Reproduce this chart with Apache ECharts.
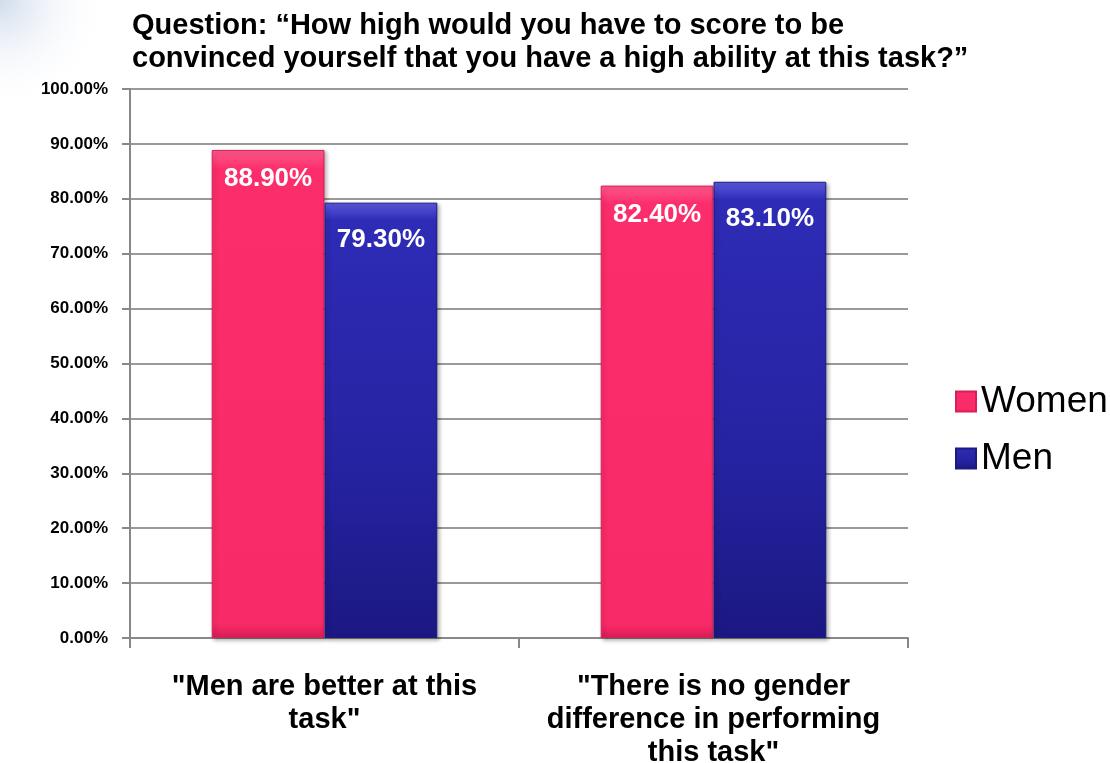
<!DOCTYPE html>
<html>
<head>
<meta charset="utf-8">
<script src="https://cdn.jsdelivr.net/npm/echarts@6/dist/echarts.min.js"></script>
<style>
  html, body { margin: 0; padding: 0; background: #fff; }
  #main { width: 1110px; height: 763px; }
</style>
</head>
<body>
<div id="main"></div>
<script>
// data
var categories = ['"Men are better at this\ntask"', '"There is no gender\ndifference in performing\nthis task"'];
var women = [88.9, 82.4];
var men = [79.3, 83.1];
var yTicks = [0, 10, 20, 30, 40, 50, 60, 70, 80, 90, 100];

var chart = echarts.init(document.getElementById('main'));

var FONT = 'Liberation Sans, Arial, sans-serif';
var labelFont = { color: '#fff', fontSize: 26, fontWeight: 'bold', fontFamily: FONT };

var option = {
  animation: false,
  graphic: [{
    // faint slide background in the top left corner
    type: 'ellipse',
    shape: { cx: 0, cy: 0, rx: 600, ry: 110 },
    style: {
      fill: new echarts.graphic.RadialGradient(0.5, 0.5, 0.5, [
        { offset: 0, color: 'rgba(205,218,235,0.95)' },
        { offset: 0.4, color: 'rgba(228,235,245,0.6)' },
        { offset: 1, color: 'rgba(255,255,255,0)' }
      ])
    },
    z: -10
  }],
  title: {
    text: 'Question: \u201cHow high would you have to score to be\nconvinced yourself that you have a high ability at this task?\u201d',
    left: 127,
    top: 4,
    textStyle: {
      fontSize: 29,
      fontWeight: 'bold',
      color: '#000',
      lineHeight: 33,
      fontFamily: FONT
    }
  },
  legend: {
    orient: 'vertical',
    left: 950,
    top: 378,
    itemGap: 20,
    itemWidth: 20,
    itemHeight: 20,
    icon: 'rect',
    textStyle: { fontSize: 37, color: '#000', fontFamily: FONT },
    data: ['Women', 'Men']
  },
  grid: { left: 130, right: 202, top: 89, bottom: 125, outerBoundsMode: 'none', containLabel: false },
  xAxis: {
    type: 'category',
    data: categories,
    axisLine: { lineStyle: { color: '#888', width: 2 } },
    axisTick: { show: true, length: 10, lineStyle: { color: '#888', width: 2 } },
    axisLabel: {
      interval: 0,
      margin: 32,
      fontSize: 29,
      fontWeight: 'bold',
      lineHeight: 33,
      color: '#000',
      fontFamily: FONT
    }
  },
  yAxis: {
    type: 'value',
    min: yTicks[0],
    max: yTicks[yTicks.length - 1],
    interval: 10,
    axisLine: { show: true, lineStyle: { color: '#888', width: 2 } },
    axisTick: { show: true, length: 8, lineStyle: { color: '#888', width: 2 } },
    splitLine: { lineStyle: { color: '#999', width: 2 } },
    axisLabel: {
      margin: 22,
      fontSize: 17,
      fontWeight: 'bold',
      color: '#000',
      fontFamily: FONT,
      formatter: function (v) { return v.toFixed(2) + '%'; }
    }
  },
  series: [
    {
      name: 'Women',
      type: 'bar',
      data: women,
      barGap: '0%',
      barCategoryGap: '42%',
      itemStyle: {
        color: new echarts.graphic.LinearGradient(0, 0, 0, 1, [
          { offset: 0, color: '#ff5a8c' },
          { offset: 0.04, color: '#fc2d6b' },
          { offset: 0.97, color: '#f92a68' },
          { offset: 1, color: '#d81d55' }
        ]),
        borderColor: '#d91f58',
        borderWidth: 1,
        shadowColor: 'rgba(0,0,0,0.3)',
        shadowBlur: 4,
        shadowOffsetX: 2,
        shadowOffsetY: 2
      },
      label: Object.assign({
        show: true,
        position: 'insideTop',
        distance: 16,
        formatter: function (p) { return p.value.toFixed(2) + '%'; }
      }, labelFont)
    },
    {
      name: 'Men',
      type: 'bar',
      data: men,
      itemStyle: {
        color: new echarts.graphic.LinearGradient(0, 0, 0, 1, [
          { offset: 0, color: '#5d5be0' },
          { offset: 0.04, color: '#2e2bb6' },
          { offset: 0.6, color: '#2623a2' },
          { offset: 1, color: '#1b1882' }
        ]),
        borderColor: '#1c1980',
        borderWidth: 1,
        shadowColor: 'rgba(0,0,0,0.3)',
        shadowBlur: 4,
        shadowOffsetX: 2,
        shadowOffsetY: 2
      },
      label: Object.assign({
        show: true,
        position: 'insideTop',
        distance: 24,
        formatter: function (p) { return p.value.toFixed(2) + '%'; }
      }, labelFont)
    }
  ]
};

chart.setOption(option);
</script>
</body>
</html>
